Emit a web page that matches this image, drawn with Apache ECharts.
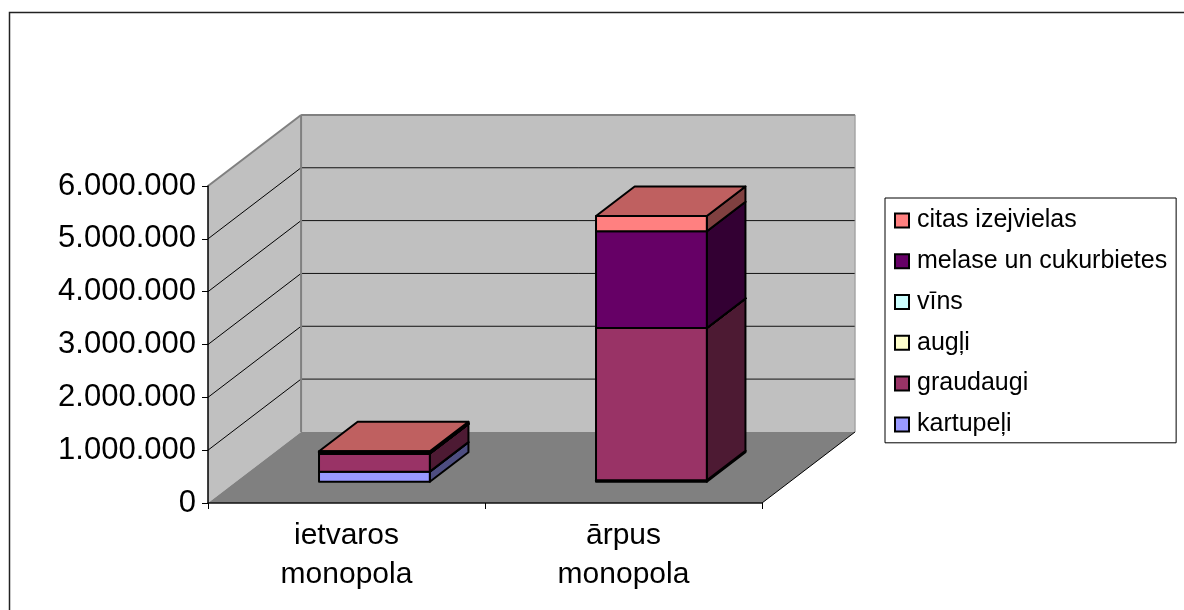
<!DOCTYPE html>
<html><head><meta charset="utf-8">
<style>html,body{margin:0;padding:0;background:#fff}#c{width:1184px;height:610px}</style>
<script src="https://cdn.jsdelivr.net/npm/echarts@6/dist/echarts.min.js"></script>
</head><body><div id="c"></div>
<script>
var categories = ['ietvaros\nmonopola', 'ārpus\nmonopola'];
var yTicks = [0, 1000000, 2000000, 3000000, 4000000, 5000000, 6000000];
var seriesNames = ['kartupeļi', 'graudaugi', 'augļi', 'vīns', 'melase un cukurbietes', 'citas izejvielas'];
var kartupeli = [190000, 25000];
var graudaugi = [345000, 2885000];
var augli = [0, 0];
var vins = [0, 0];
var melase = [20000, 1830000];
var citas = [20000, 290000];
var seriesValues = [kartupeli, graudaugi, augli, vins, melase, citas];
var seriesColors = [[153,153,255], [153,51,102], [255,255,204], [204,255,255], [102,0,102], [255,128,128]];

var DEPTH_X = 0.336, DEPTH_Y = 1.345, BAR_W = 0.4, BAR_OFF = 0.3, BAR_DEPTH = 0.415;

function rgb(c, k) { return 'rgb(' + c.map(function (v) { return Math.round(v * k); }).join(',') + ')'; }
function poly(pts, fill, stroke, lw) {
  return { type: 'polygon', shape: { points: pts }, style: { fill: fill, stroke: stroke || null, lineWidth: lw || 0, lineJoin: 'round' } };
}
function line(a, b, stroke, lw) {
  return { type: 'line', shape: { x1: a[0], y1: a[1], x2: b[0], y2: b[1] }, style: { stroke: stroke, lineWidth: lw } };
}
function depthOf(api, cs) {
  var unit = api.coord([0, 0])[1] - api.coord([0, 1000000])[1];
  return [cs.width / categories.length * DEPTH_X, unit * DEPTH_Y];
}
function renderWalls(params, api) {
  var cs = params.coordSys, d = depthOf(api, cs);
  var x0 = cs.x, x1 = cs.x + cs.width;
  var yOf = function (v) { return api.coord([0, v])[1]; };
  var top = yOf(yTicks[yTicks.length - 1]), bot = yOf(0);
  var ch = [];
  ch.push(poly([[x0 + d[0], top - d[1]], [x1 + d[0], top - d[1]], [x1 + d[0], bot - d[1]], [x0 + d[0], bot - d[1]]], '#C0C0C0'));
  ch.push(poly([[x0, top], [x0 + d[0], top - d[1]], [x0 + d[0], bot - d[1]], [x0, bot]], '#C0C0C0'));
  ch.push(poly([[x0, bot], [x0 + d[0], bot - d[1]], [x1 + d[0], bot - d[1]], [x1, bot]], '#808080'));
  yTicks.slice(1, -1).forEach(function (v) {
    var y = yOf(v);
    ch.push(line([x0, y], [x0 + d[0], y - d[1]], '#000', 1));
    ch.push(line([x0 + d[0], y - d[1]], [x1 + d[0], y - d[1]], '#111', 1));
  });
  ch.push(line([x0, top], [x0 + d[0], top - d[1]], '#808080', 2));
  ch.push(line([x0 + d[0], top - d[1]], [x1 + d[0], top - d[1]], '#808080', 2));
  ch.push(line([x0 + d[0], top - d[1]], [x0 + d[0], bot - d[1]], '#808080', 2));
  ch.push(line([x1 + d[0], top - d[1]], [x1 + d[0], bot - d[1]], '#909090', 1));
  ch.push(line([x1, bot], [x1 + d[0], bot - d[1]], '#000', 1));
  return { type: 'group', children: ch };
}
function renderSegment(s) {
  return function (params, api) {
    var cs = params.coordSys, d = depthOf(api, cs);
    var cat = api.value(0), val = api.value(1), base = 0;
    for (var i = 0; i < s; i++) base += seriesValues[i][cat];
    var band = cs.width / categories.length;
    var cx = api.coord([cat, 0])[0];
    var ox = d[0] * BAR_OFF, oy = d[1] * BAR_OFF, bx = d[0] * BAR_DEPTH, by = d[1] * BAR_DEPTH;
    var xl = cx + ox - band * BAR_W / 2, xr = cx + ox + band * BAR_W / 2;
    var yb = api.coord([cat, base])[1] - oy, yt = api.coord([cat, base + val])[1] - oy;
    var c = seriesColors[s];
    return { type: 'group', children: [
      poly([[xr, yb], [xr + bx, yb - by], [xr + bx, yt - by], [xr, yt]], rgb(c, 0.5), '#000', 2),
      poly([[xl, yt], [xr, yt], [xr + bx, yt - by], [xl + bx, yt - by]], rgb(c, 0.75), '#000', 2),
      poly([[xl, yb], [xr, yb], [xr, yt], [xl, yt]], rgb(c, 1), '#000', 2)
    ] };
  };
}
var series = [{ type: 'custom', name: 'walls', z: 1, silent: true, data: [[0, 0]], renderItem: renderWalls, encode: { x: 0, y: 1 } }];
seriesNames.forEach(function (n, s) {
  series.push({
    type: 'custom', name: n, z: 2 + s,
    itemStyle: { color: rgb(seriesColors[s], 1), borderColor: '#000', borderWidth: 1.5 },
    renderItem: renderSegment(s), encode: { x: 0, y: 1 },
    data: seriesValues[s].map(function (v, i) { return [i, v]; })
  });
});
var font = '"Liberation Sans", Arial, sans-serif';
var chart = echarts.init(document.getElementById('c'), null, { renderer: 'canvas' });
chart.setOption({
  animation: false,
  backgroundColor: '#fff',
  grid: { left: 208, top: 186, width: 554, height: 317, containLabel: false },
  xAxis: {
    type: 'category', data: categories, z: 20,
    axisLine: { lineStyle: { color: '#111', width: 1.5 } },
    axisTick: { show: true, length: 6, lineStyle: { color: '#000', width: 1 } },
    axisLabel: { color: '#000', fontSize: 30, fontFamily: font, lineHeight: 39, margin: 13, interval: 0 },
    splitLine: { show: false }
  },
  yAxis: {
    type: 'value', min: 0, max: 6000000, interval: 1000000, z: 20,
    axisLine: { show: true, lineStyle: { color: '#000', width: 1.5 } },
    axisTick: { show: true, length: 6, lineStyle: { color: '#000', width: 1 } },
    axisLabel: { color: '#000', fontSize: 31, fontFamily: font, margin: 12, padding: [8, 0, 0, 0],
      formatter: function (v) { return String(v).replace(/\B(?=(\d{3})+$)/g, '.'); } },
    splitLine: { show: false }
  },
  legend: {
    show: true, orient: 'vertical', left: 885, top: 198,
    data: seriesNames.slice().reverse(),
    icon: 'rect', itemWidth: 14, itemHeight: 14, itemGap: 12, padding: [8, 9, 4, 9],
    borderColor: '#000', borderWidth: 1, backgroundColor: '#fff',
    selectedMode: false,
    textStyle: { color: '#000', fontSize: 25, fontFamily: font, lineHeight: 28.8, padding: [0, 0, 0, 3] }
  },
  graphic: [{ type: 'polyline', silent: true, z: -1, shape: { points: [[9.5, 610], [9.5, 12.5], [1184, 12.5]] }, style: { stroke: '#222', lineWidth: 1.5, fill: null } }],
  series: series
});
</script></body></html>
